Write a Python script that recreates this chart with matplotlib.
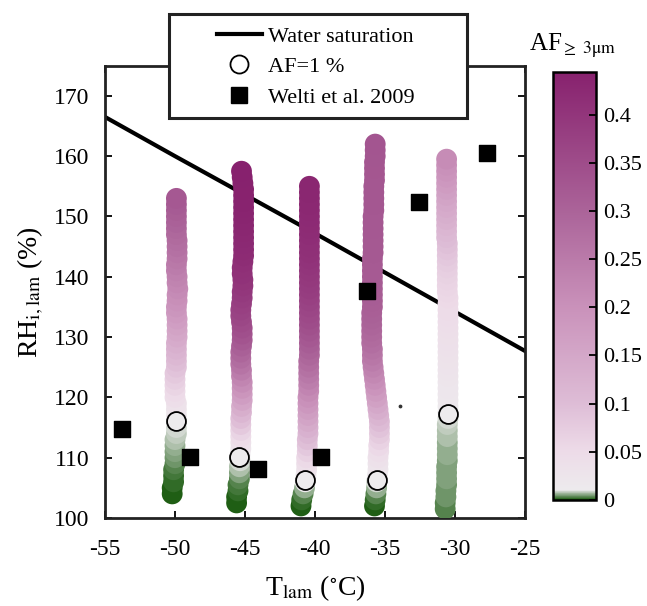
import matplotlib
matplotlib.use("Agg")
import matplotlib.pyplot as plt
from matplotlib.colors import LinearSegmentedColormap
from matplotlib.lines import Line2D
from matplotlib.patches import Rectangle

plt.rcParams['font.family'] = ['Liberation Serif', 'DejaVu Serif']
plt.rcParams['mathtext.fontset'] = 'stix'
plt.rcParams['axes.unicode_minus'] = False

# ---------------- data ----------------
# water saturation line (T, RHi)
ws_T = [-55, -50, -45, -40, -35, -30, -25]
ws_RH = [166.5, 160.0, 153.6, 147.2, 140.7, 134.2, 127.7]

# Welti et al. 2009
welti_T = [-53.8, -48.9, -44.1, -39.6, -36.3, -32.6, -27.7]
welti_RH = [114.8, 110.1, 108.1, 110.1, 137.7, 152.4, 160.5]

# AF = 1 % points
af1_T = [-49.9, -45.4, -40.7, -35.6, -30.5]
af1_RH = [116.1, 110.1, 106.3, 106.3, 117.3]

# stray point
stray_T = [-33.9]
stray_RH = [118.6]

# column 1 (~ -50 C)
rh1 = [104, 105, 106, 107, 108, 109, 110, 111, 112, 113,
       114, 115, 116, 117, 118, 119, 120, 121, 122, 123,
       124, 125, 126, 127, 128, 129, 130, 131, 132, 133,
       134, 135, 136, 137, 138, 139, 140, 141, 142, 143,
       144, 145, 146, 147, 148, 149, 150, 151, 152, 153]
t1 = [-50.2, -50.2, -50.1, -50.1, -50.1, -50.0, -50.0, -50.0, -50.0, -50.0,
      -49.9, -49.9, -49.9, -49.9, -49.9, -49.9, -50.0, -50.0, -50.0, -50.0,
      -50.0, -49.9, -49.9, -49.9, -49.9, -49.9, -49.85, -49.85, -49.85, -49.85,
      -49.9, -49.9, -49.85, -49.85, -49.8, -49.85, -49.85, -49.9, -49.9, -49.85,
      -49.85, -49.85, -49.85, -49.9, -49.9, -49.9, -49.9, -49.9, -49.9, -49.9]
af1 = [0.000, 0.000, 0.001, 0.001, 0.002, 0.003, 0.004, 0.005, 0.006, 0.007,
       0.008, 0.009, 0.010, 0.016, 0.024, 0.033, 0.042, 0.051, 0.060, 0.070,
       0.080, 0.090, 0.100, 0.110, 0.120, 0.130, 0.140, 0.150, 0.160, 0.170,
       0.180, 0.190, 0.198, 0.206, 0.214, 0.222, 0.230, 0.238, 0.246, 0.254,
       0.262, 0.270, 0.277, 0.284, 0.291, 0.298, 0.305, 0.312, 0.318, 0.324]

# column 2 (~ -45 C)
rh2 = [102.5, 103.5, 104.5, 105.5, 106.5, 107.5, 108.5, 109.5, 110.5, 111.5,
       112.5, 113.5, 114.5, 115.5, 116.5, 117.5, 118.5, 119.5, 120.5, 121.5,
       122.5, 123.5, 124.5, 125.5, 126.5, 127.5, 128.5, 129.5, 130.5, 131.5,
       132.5, 133.5, 134.5, 135.5, 136.5, 137.5, 138.5, 139.5, 140.5, 141.5,
       142.5, 143.5, 144.5, 145.5, 146.5, 147.5, 148.5, 149.5, 150.5, 151.5,
       152.5, 153.5, 154.5, 155.5, 156.5, 157.5]
t2 = [-45.6, -45.6, -45.5, -45.5, -45.4, -45.4, -45.4, -45.35, -45.35, -45.3,
      -45.3, -45.3, -45.3, -45.3, -45.3, -45.25, -45.25, -45.2, -45.2, -45.2,
      -45.2, -45.25, -45.25, -45.3, -45.3, -45.3, -45.25, -45.2, -45.2, -45.2,
      -45.25, -45.3, -45.3, -45.25, -45.2, -45.2, -45.15, -45.15, -45.2, -45.2,
      -45.15, -45.1, -45.1, -45.1, -45.1, -45.1, -45.1, -45.1, -45.1, -45.1,
      -45.1, -45.1, -45.1, -45.15, -45.2, -45.25]
af2 = [0.000, 0.000, 0.001, 0.002, 0.003, 0.005, 0.007, 0.009, 0.013, 0.022,
       0.034, 0.048, 0.063, 0.080, 0.098, 0.116, 0.135, 0.154, 0.173, 0.192,
       0.210, 0.228, 0.246, 0.263, 0.279, 0.294, 0.308, 0.321, 0.333, 0.344,
       0.354, 0.363, 0.371, 0.378, 0.385, 0.391, 0.397, 0.402, 0.407, 0.411,
       0.415, 0.419, 0.422, 0.425, 0.428, 0.430, 0.432, 0.434, 0.436, 0.438,
       0.440, 0.441, 0.442, 0.443, 0.444, 0.445]

# column 3 (~ -40 C)
rh3 = [102, 103, 104, 105, 106, 107, 108, 109, 110, 111,
       112, 113, 114, 115, 116, 117, 118, 119, 120, 121,
       122, 123, 124, 125, 126, 127, 128, 129, 130, 131,
       132, 133, 134, 135, 136, 137, 138, 139, 140, 141,
       142, 143, 144, 145, 146, 147, 148, 149, 150, 151,
       152, 153, 154, 155]
t3 = [-41.0, -40.95, -40.85, -40.75, -40.7, -40.65, -40.6, -40.6, -40.6, -40.55,
      -40.55, -40.55, -40.5, -40.5, -40.5, -40.5, -40.5, -40.5, -40.5, -40.45,
      -40.45, -40.45, -40.45, -40.45, -40.45, -40.4, -40.4, -40.4, -40.4, -40.4,
      -40.4, -40.4, -40.4, -40.4, -40.4, -40.4, -40.4, -40.4, -40.4, -40.4,
      -40.4, -40.4, -40.4, -40.4, -40.4, -40.4, -40.4, -40.4, -40.4, -40.4,
      -40.4, -40.4, -40.4, -40.4]
af3 = [0.000, 0.001, 0.003, 0.006, 0.010, 0.018, 0.028, 0.040, 0.053, 0.067,
       0.082, 0.097, 0.112, 0.127, 0.142, 0.157, 0.172, 0.187, 0.201, 0.215,
       0.229, 0.243, 0.256, 0.269, 0.281, 0.293, 0.304, 0.315, 0.325, 0.334,
       0.343, 0.351, 0.358, 0.365, 0.371, 0.377, 0.383, 0.388, 0.393, 0.397,
       0.401, 0.405, 0.409, 0.412, 0.415, 0.418, 0.421, 0.423, 0.425, 0.427,
       0.429, 0.431, 0.432, 0.433]

# column 4 (~ -35 C)
rh4 = [102, 103, 104, 105, 106, 107, 108, 109, 110, 111,
       112, 113, 114, 115, 116, 117, 118, 119, 120, 121,
       122, 123, 124, 125, 126, 127, 128, 129, 130, 131,
       132, 133, 134, 135, 136, 137, 138, 139, 140, 141,
       142, 143, 144, 145, 146, 147, 148, 149, 150, 151,
       152, 153, 154, 155, 156, 157, 158, 159, 160, 161, 162]
t4 = [-35.75, -35.7, -35.65, -35.6, -35.6, -35.55, -35.5, -35.5, -35.5, -35.45,
      -35.45, -35.4, -35.4, -35.4, -35.4, -35.45, -35.5, -35.55, -35.6, -35.65,
      -35.7, -35.75, -35.8, -35.85, -35.9, -35.9, -35.9, -35.95, -35.95, -35.95,
      -35.95, -35.95, -35.95, -35.9, -35.9, -35.9, -35.9, -35.9, -35.9, -35.9,
      -35.9, -35.9, -35.85, -35.85, -35.85, -35.85, -35.85, -35.85, -35.85, -35.8,
      -35.8, -35.8, -35.8, -35.8, -35.75, -35.75, -35.75, -35.75, -35.7, -35.7, -35.7]
af4 = [0.000, 0.001, 0.003, 0.006, 0.009, 0.014, 0.020, 0.027, 0.035, 0.044,
       0.054, 0.065, 0.077, 0.090, 0.104, 0.118, 0.133, 0.148, 0.163, 0.178,
       0.193, 0.207, 0.221, 0.234, 0.246, 0.257, 0.267, 0.276, 0.284, 0.291,
       0.297, 0.302, 0.306, 0.309, 0.312, 0.314, 0.316, 0.318, 0.319, 0.320,
       0.321, 0.321, 0.322, 0.322, 0.323, 0.323, 0.324, 0.324, 0.325, 0.325,
       0.326, 0.326, 0.327, 0.327, 0.328, 0.328, 0.329, 0.329, 0.330, 0.330, 0.331]

# column 5 (~ -30 C)
rh5 = [101.5, 102.5, 103.5, 104.5, 105.5, 106.5, 107.5, 108.5, 109.5, 110.5,
       111.5, 112.5, 113.5, 114.5, 115.5, 116.5, 117.5, 118.5, 119.5, 120.5,
       121.5, 122.5, 123.5, 124.5, 125.5, 126.5, 127.5, 128.5, 129.5, 130.5,
       131.5, 132.5, 133.5, 134.5, 135.5, 136.5, 137.5, 138.5, 139.5, 140.5,
       141.5, 142.5, 143.5, 144.5, 145.5, 146.5, 147.5, 148.5, 149.5, 150.5,
       151.5, 152.5, 153.5, 154.5, 155.5, 156.5, 157.5, 158.5, 159.5]
t5 = [-30.7, -30.7, -30.65, -30.65, -30.6, -30.6, -30.6, -30.6, -30.55, -30.55,
      -30.55, -30.55, -30.55, -30.55, -30.55, -30.5, -30.5, -30.5, -30.5, -30.5,
      -30.5, -30.5, -30.5, -30.5, -30.5, -30.5, -30.5, -30.5, -30.5, -30.5,
      -30.5, -30.5, -30.5, -30.5, -30.5, -30.5, -30.55, -30.55, -30.55, -30.55,
      -30.55, -30.55, -30.55, -30.55, -30.55, -30.6, -30.6, -30.6, -30.6, -30.6,
      -30.6, -30.6, -30.6, -30.6, -30.6, -30.6, -30.6, -30.6, -30.6]
af5 = [0.003, 0.003, 0.004, 0.004, 0.004, 0.005, 0.005, 0.005, 0.005, 0.006,
       0.006, 0.006, 0.007, 0.007, 0.008, 0.009, 0.010, 0.013, 0.016, 0.019,
       0.021, 0.023, 0.025, 0.027, 0.029, 0.031, 0.033, 0.035, 0.037, 0.039,
       0.041, 0.043, 0.045, 0.047, 0.049, 0.052, 0.055, 0.058, 0.062, 0.066,
       0.071, 0.076, 0.082, 0.088, 0.095, 0.102, 0.109, 0.116, 0.124, 0.132,
       0.140, 0.148, 0.157, 0.166, 0.175, 0.184, 0.193, 0.202, 0.212]

columns = [(t1, rh1, af1), (t2, rh2, af2), (t3, rh3, af3), (t4, rh4, af4), (t5, rh5, af5)]

x_ticks = [-55, -50, -45, -40, -35, -30, -25]
y_ticks = [100, 110, 120, 130, 140, 150, 160, 170]
cb_ticks = [0, 0.05, 0.1, 0.15, 0.2, 0.25, 0.3, 0.35, 0.4]
cb_ticklabels = ['0', '0.05', '0.1', '0.15', '0.2', '0.25', '0.3', '0.35', '0.4']

# ---------------- colormap ----------------
VMAX = 0.445
AF_WHITE = (0.93, 0.92, 0.93)
cm_stops = [(0.0, (0.12, 0.37, 0.08)),
            (0.010, AF_WHITE),
            (0.05, (0.93, 0.86, 0.91)),
            (0.10, (0.87, 0.74, 0.84)),
            (0.20, (0.79, 0.57, 0.73)),
            (0.30, (0.67, 0.39, 0.60)),
            (VMAX, (0.53, 0.13, 0.43))]
cmap = LinearSegmentedColormap.from_list('afmap', [(v / VMAX, c) for v, c in cm_stops], N=1024)

# ---------------- figure ----------------
W, H = 647, 606
fig = plt.figure(figsize=(W / 100, H / 100), dpi=100)
ax = fig.add_axes([105 / W, 1 - 518 / H, 420 / W, 452.3 / H])
cax = fig.add_axes([552.7 / W, 1 - 499.7 / H, 43 / W, (499.7 - 71.7) / H])

ax.plot(ws_T, ws_RH, color='black', lw=3.0, zorder=2)

sc = None
for t, rh, af in columns:
    assert len(t) == len(rh) == len(af)
    sc = ax.scatter(t, rh, c=af, cmap=cmap, vmin=0, vmax=VMAX, s=225,
                    edgecolors='none', zorder=3)

ax.scatter(af1_T, af1_RH, s=185, facecolor=AF_WHITE, edgecolor='black',
           linewidths=1.3, zorder=4)
ax.scatter(welti_T, welti_RH, s=135, marker='s', color='black', zorder=5)
ax.scatter(stray_T, stray_RH, s=3, color='#333333', zorder=5)

ax.set_xlim(-55, -25)
ax.set_ylim(100, 175)
ax.set_xticks(x_ticks)
ax.set_yticks(y_ticks)
ax.tick_params(direction='in', top=True, right=True, length=5, width=1.3,
               labelsize=17)
ax.tick_params(axis='x', pad=15)
ax.tick_params(axis='y', pad=11)
for sp in ax.spines.values():
    sp.set_linewidth(2.0)
    sp.set_color('#222222')

ax.set_xlabel(r'T$_{\rm lam}$ ($^{\circ}$C)', fontsize=20, labelpad=10)
ax.set_ylabel(r'RH$_{\rm i,lam}$ (%)', fontsize=20, labelpad=6)

cb = fig.colorbar(sc, cax=cax)
cb.set_ticks(cb_ticks)
cb.set_ticklabels(cb_ticklabels)
cb.ax.tick_params(direction='in', length=5, width=1.3, labelsize=16, pad=5)
cb.outline.set_linewidth(1.8)
fig.text(573 / W, 1 - 46 / H, r'AF$_{\geq\ \mathrm{3\mu m}}$', fontsize=18,
         ha='center', va='center')

# legend with separate frame
frame = Rectangle((169.3 / W, 1 - 118.3 / H), (466.7 - 169.3) / W, (118.3 - 14) / H,
                  transform=fig.transFigure, facecolor='white', edgecolor='#222222',
                  lw=2.2, zorder=4)
fig.add_artist(frame)
handles = [Line2D([], [], color='black', lw=3.0),
           Line2D([], [], marker='o', ls='none', mfc='white', mec='black', ms=13, mew=1.3),
           Line2D([], [], marker='s', ls='none', color='black', ms=11)]
labels = ['Water saturation', 'AF=1 %', 'Welti et al. 2009']
leg = fig.legend(handles, labels, loc='center', bbox_to_anchor=(316 / W, 1 - 67 / H),
                 frameon=False, fontsize=16, labelspacing=0.45, handlelength=2.0,
                 handletextpad=0.3, borderpad=0.2)
leg.set_zorder(6)

fig.savefig('out.png', dpi=100)
